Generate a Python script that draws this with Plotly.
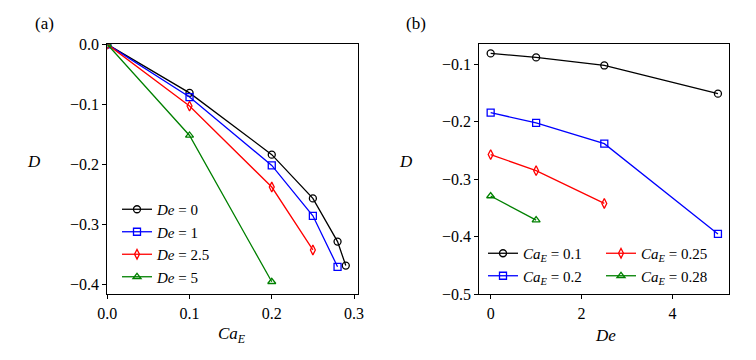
import plotly.graph_objects as go

# panel (a): deformation D vs electric capillary number Ca_E
ca_de0 = [0.0, 0.1, 0.2, 0.25, 0.28, 0.29]
d_de0 = [0.0, -0.081, -0.184, -0.257, -0.329, -0.369]
ca_de1 = [0.0, 0.1, 0.2, 0.25, 0.28]
d_de1 = [0.0, -0.088, -0.202, -0.286, -0.371]
ca_de25 = [0.0, 0.1, 0.2, 0.25]
d_de25 = [0.0, -0.103, -0.238, -0.343]
ca_de5 = [0.0, 0.1, 0.2]
d_de5 = [0.0, -0.152, -0.396]

# panel (b): D vs Deborah number De
de_ca01 = [0, 1, 2.5, 5]
d_ca01 = [-0.081, -0.088, -0.102, -0.151]
de_ca02 = [0, 1, 2.5, 5]
d_ca02 = [-0.184, -0.202, -0.238, -0.395]
de_ca025 = [0, 1, 2.5]
d_ca025 = [-0.257, -0.285, -0.342]
de_ca028 = [0, 1]
d_ca028 = [-0.329, -0.371]

W, H = 756, 360
FONT = "Liberation Serif, DejaVu Serif, serif"


def px(x):
    return x / W


def py(y):
    return 1 - y / H


fig = go.Figure()

style = [
    ("black", "circle-open"),
    ("#0000ff", "square-open"),
    ("#ff0000", "diamond-tall-open"),
    ("#008000", "triangle-up-open"),
]

series_a = [
    (ca_de0, d_de0, "<i>De</i> = 0"),
    (ca_de1, d_de1, "<i>De</i> = 1"),
    (ca_de25, d_de25, "<i>De</i> = 2.5"),
    (ca_de5, d_de5, "<i>De</i> = 5"),
]
for (x, y, name), (col, sym) in zip(series_a, style):
    fig.add_trace(go.Scatter(
        x=x, y=y, name=name, mode="lines+markers",
        line=dict(color=col, width=1.3),
        marker=dict(symbol=sym, size=7, color=col, line=dict(width=1.3, color=col)),
        xaxis="x", yaxis="y", legend="legend",
    ))

series_b = [
    (de_ca01, d_ca01, "<i>Ca<sub>E</sub></i> = 0.1", "legend2"),
    (de_ca02, d_ca02, "<i>Ca<sub>E</sub></i> = 0.2", "legend2"),
    (de_ca025, d_ca025, "<i>Ca<sub>E</sub></i> = 0.25", "legend3"),
    (de_ca028, d_ca028, "<i>Ca<sub>E</sub></i> = 0.28", "legend3"),
]
for (x, y, name, leg), (col, sym) in zip(series_b, style):
    fig.add_trace(go.Scatter(
        x=x, y=y, name=name, mode="lines+markers",
        line=dict(color=col, width=1.3),
        marker=dict(symbol=sym, size=7, color=col, line=dict(width=1.3, color=col)),
        xaxis="x2", yaxis="y2", legend=leg,
    ))

axis_common = dict(
    showline=True, linecolor="black", linewidth=1.2, mirror=True,
    ticks="outside", ticklen=4, tickwidth=1, tickcolor="black",
    showgrid=False, zeroline=False, automargin=False,
    tickfont=dict(family=FONT, size=16, color="black"),
)

legend_common = dict(
    bgcolor="rgba(0,0,0,0)", borderwidth=0,
    font=dict(family=FONT, size=15, color="black"),
    xanchor="left", yanchor="top", tracegroupgap=0,
)

fig.update_layout(
    template="none",
    width=W, height=H,
    margin=dict(l=0, r=0, t=0, b=0),
    paper_bgcolor="white", plot_bgcolor="white",
    font=dict(family=FONT, size=16, color="black"),
    xaxis=dict(domain=[px(107.3), px(357.7)], range=[0, 0.3045],
               tickvals=[0, 0.1, 0.2, 0.3], tickformat=".1f", anchor="y", **axis_common),
    yaxis=dict(domain=[py(294.3), py(44.3)], range=[-0.4169, 0],
               tickvals=[0, -0.1, -0.2, -0.3, -0.4], tickformat=".1f", anchor="x", **axis_common),
    xaxis2=dict(domain=[px(479.3), px(729.3)], range=[-0.25, 5.25],
                tickvals=[0, 2, 4], anchor="y2", **axis_common),
    yaxis2=dict(domain=[py(294.3), py(44.3)], range=[-0.5, -0.0652],
                tickvals=[-0.1, -0.2, -0.3, -0.4, -0.5], tickformat=".1f", anchor="x2", **axis_common),
    legend=dict(x=px(117), y=py(193), **legend_common),
    legend2=dict(x=px(483), y=py(237), **legend_common),
    legend3=dict(x=px(601), y=py(237), **legend_common),
)

annotations = [
    ("(a)", 44, 24),
    ("(b)", 416, 24),
    ("<i>D</i>", 34, 162),
    ("<i>Ca<sub>E</sub></i>", 232, 335),
    ("<i>D</i>", 406, 162),
    ("<i>De</i>", 605, 335),
]
for text, x, y in annotations:
    fig.add_annotation(text=text, x=px(x), y=py(y), xref="paper", yref="paper",
                       xanchor="center", yanchor="middle",
                       showarrow=False, font=dict(family=FONT, size=17, color="black"))

# drop the default page margin so the figure sits at the window's corner
fig.write_html("out.html", config={"displayModeBar": False},
               post_script="document.body.style.margin='0';")
